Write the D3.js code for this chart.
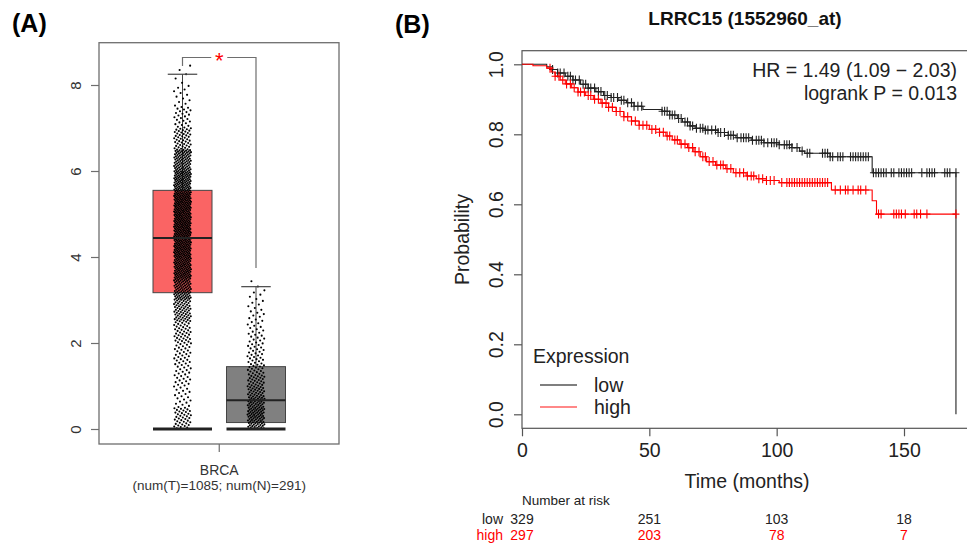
<!DOCTYPE html>
<html>
<head>
<meta charset="utf-8">
<script src="https://cdn.jsdelivr.net/npm/d3@7"></script>
<style>
    body { margin: 0; background: #fff; }
    text { font-family: "Liberation Sans", Arial, Helvetica, sans-serif; }
</style>
</head>
<body>
<svg id="chart" width="967" height="543"></svg>
<script>
// ---------- panel A data (GEPIA box plot, BRCA) ----------
var groups = ['Tumor', 'Normal'];
var groupFill = ['#fa6464', '#808080'];
// min, q1, median, q3, upper whisker
var tumorBox = [0, 3.17, 4.44, 5.55, 8.25];
var normalBox = [0, 0.15, 0.67, 1.45, 3.31];
var tumorZeros = 30;
var tumorBinStart = 0, tumorBinWidth = 0.5;
var tumorBinCounts = [40, 20, 25, 30, 40, 60, 85, 110, 120, 125, 123, 105, 85, 45, 25, 12, 5];
var normalZeros = 40;
var normalBinStart = 0, normalBinWidth = 0.25;
var normalBinCounts = [36, 40, 35, 28, 24, 19, 15, 13, 11, 9, 8, 6, 5, 2];
var yTicksA = [0, 2, 4, 6, 8];
var cancerLabel = 'BRCA';
var countLabel = '(num(T)=1085; num(N)=291)';

// ---------- panel B data (KM plot) ----------
var kmTitle = 'LRRC15 (1552960_at)';
var lowTimes = [0, 9.7, 12, 14, 17, 20, 23, 26, 29, 32, 35, 38, 41, 44, 47.5, 55, 58, 61, 63, 66, 68, 72, 77, 81, 84, 90, 95, 101, 106, 109, 111, 121, 137.5, 170.4];
var lowSurv = [1.0, 0.993, 0.985, 0.975, 0.966, 0.955, 0.943, 0.932, 0.922, 0.911, 0.905, 0.897, 0.890, 0.880, 0.871, 0.866, 0.855, 0.845, 0.835, 0.824, 0.817, 0.812, 0.805, 0.797, 0.790, 0.783, 0.776, 0.770, 0.762, 0.752, 0.746, 0.736, 0.690, 0.0];
var highTimes = [0, 4.3, 9.7, 11.5, 13, 15, 17, 19.5, 22, 25, 28, 31, 34, 37, 40, 43, 46, 50, 54, 56.5, 59, 62, 65, 67.5, 70, 72.5, 76, 80, 83, 88, 92, 96, 101, 121.5, 137.5, 139.2, 170.4];
var highSurv = [1.0, 0.996, 0.989, 0.978, 0.966, 0.955, 0.944, 0.933, 0.921, 0.911, 0.900, 0.889, 0.877, 0.865, 0.850, 0.838, 0.826, 0.814, 0.806, 0.795, 0.784, 0.772, 0.762, 0.750, 0.736, 0.722, 0.712, 0.702, 0.690, 0.681, 0.673, 0.668, 0.662, 0.641, 0.610, 0.572, 0.572];
var lowCensor = [12, 14, 15, 16.5, 18, 19, 20, 21, 22.5, 24, 25, 26, 27, 28.5, 30, 31, 32.5, 33.5, 35, 36, 37.5, 39, 40, 41.5, 43, 44, 45.5, 47,
    55, 56, 57, 58, 59, 60, 61.5, 62.5, 64, 65, 66, 67, 68.5, 70, 71, 72, 73, 74.5, 76, 77, 78, 79.5, 81, 82, 83, 84.5, 86, 87, 88, 89, 90.5,
    92, 93, 94, 95, 96.5, 98, 99, 100, 101, 103, 104, 105, 106, 108, 110, 112, 113, 118, 119, 120, 121, 122, 124, 125, 126, 129, 130, 131,
    132, 133, 134, 135, 136, 138, 139, 140, 141, 142, 143, 145, 146, 148, 149, 150, 151, 152, 153, 157, 159, 160, 161, 162, 166, 167, 168, 170.4];
var highCensor = [11, 13, 14.5, 16, 17.5, 19, 20.5, 22, 23, 24.5, 26, 27, 28.5, 30, 31.5, 33, 34, 35.5, 37, 38.5, 40, 41.5, 43, 44.5, 46, 47.5,
    49, 51, 52.5, 54, 55.5, 57, 58, 60, 61, 62.5, 64, 65.5, 67, 68, 69.5, 71, 72, 73.5, 75, 76.5, 78, 79, 80.5, 82, 84, 85.5, 87, 88.5, 90, 91,
    93, 94.5, 96, 97.5, 99, 102, 104, 105, 106, 107, 108, 109, 110, 111, 112, 113, 114, 115, 116, 117, 118, 119, 120, 123, 125, 127, 128, 130,
    132, 133, 135, 140, 141, 146, 147, 148, 149, 150.5, 154, 155, 156.5, 159, 170.4];
var seriesNames = ['low', 'high'];
var seriesColors = ['#222222', '#ff0000'];
var hrText = 'HR = 1.49 (1.09 \u2212 2.03)';
var pText = 'logrank P = 0.013';
var riskTimes = [0, 50, 100, 150];
var lowAtRisk = [329, 251, 103, 18];
var highAtRisk = [297, 203, 78, 7];
var xTicksB = [0, 50, 100, 150];
var yTicksB = [0, 0.2, 0.4, 0.6, 0.8, 1.0];

var svg = d3.select('#chart');

// ================= panel A =================
var frameA = {left: 99, right: 339, top: 42.7, bottom: 444};
var yA = d3.scaleLinear().domain([0, 8]).range([429, 85]);
var xA = d3.scalePoint().domain(groups).range([182.5, 256]);
var boxW = 59;
var axisGrey = '#6e6e6e';

var gA = svg.append('g');

gA.append('rect')
    .attr('x', frameA.left).attr('y', frameA.top)
    .attr('width', frameA.right - frameA.left)
    .attr('height', frameA.bottom - frameA.top)
    .attr('fill', 'none').attr('stroke', axisGrey).attr('stroke-width', 1.3);

var ayA = gA.append('g')
    .attr('transform', 'translate(' + frameA.left + ',0)')
    .call(d3.axisLeft(yA).tickValues(yTicksA).tickSize(8).tickFormat(d3.format('d')));
ayA.select('.domain').remove();
ayA.selectAll('line').attr('stroke', axisGrey).attr('stroke-width', 1.2);
ayA.selectAll('text')
    .attr('x', null).attr('dy', null)
    .attr('text-anchor', 'middle')
    .attr('transform', 'translate(-18,0) rotate(-90)')
    .style('font-size', '15px').attr('fill', '#333');

// x tick between the two boxes
var midA = (xA(groups[0]) + xA(groups[1])) / 2;
gA.append('line')
    .attr('x1', midA).attr('x2', midA)
    .attr('y1', frameA.bottom).attr('y2', frameA.bottom + 8)
    .attr('stroke', axisGrey).attr('stroke-width', 1.2);
gA.append('text').attr('x', midA).attr('y', 475)
    .attr('text-anchor', 'middle').style('font-size', '14px').attr('fill', '#333')
    .text(cancerLabel);
gA.append('text').attr('x', midA).attr('y', 490)
    .attr('text-anchor', 'middle').style('font-size', '13.5px').attr('fill', '#333')
    .text(countLabel);

var boxStats = [tumorBox, normalBox];

// boxes
groups.forEach(function (g, i) {
    var s = boxStats[i];
    var cx = xA(g);
    gA.append('line')
        .attr('x1', cx).attr('x2', cx)
        .attr('y1', yA(s[3])).attr('y2', yA(s[4]))
        .attr('stroke', '#444').attr('stroke-width', 1);
    gA.append('rect')
        .attr('x', cx - boxW / 2).attr('y', yA(s[3]))
        .attr('width', boxW).attr('height', yA(s[1]) - yA(s[3]))
        .attr('fill', groupFill[i]).attr('stroke', '#444').attr('stroke-width', 1);
});

// jittered points from the binned counts
var makePoints = function (group, zeros, start, width, counts) {
    var pts = [];
    var k = 0;
    for (var z = 0; z < zeros; z++) {
        pts.push({g: group, v: 0, k: k++});
    }
    counts.forEach(function (n, b) {
        for (var j = 0; j < n; j++) {
            pts.push({g: group, v: start + width * b + width * (j + 0.5) / n, k: k++});
        }
    });
    return pts;
};
var points = makePoints(groups[0], tumorZeros, tumorBinStart, tumorBinWidth, tumorBinCounts)
    .concat(makePoints(groups[1], normalZeros, normalBinStart, normalBinWidth, normalBinCounts));

gA.append('g').selectAll('circle')
    .data(points)
    .enter()
    .append('circle')
    .attr('cx', function (d) {
        var f = (d.k * 0.6180339887) % 1;
        return xA(d.g) + (f - 0.5) * 17;
    })
    .attr('cy', function (d) { return yA(d.v); })
    .attr('r', 1.05)
    .attr('fill', '#000');

// median, caps, base line
groups.forEach(function (g, i) {
    var s = boxStats[i];
    var cx = xA(g);
    gA.append('line')
        .attr('x1', cx - boxW / 2).attr('x2', cx + boxW / 2)
        .attr('y1', yA(s[2])).attr('y2', yA(s[2]))
        .attr('stroke', '#222').attr('stroke-width', 2);
    gA.append('line')
        .attr('x1', cx - boxW / 4).attr('x2', cx + boxW / 4)
        .attr('y1', yA(s[4])).attr('y2', yA(s[4]))
        .attr('stroke', '#444').attr('stroke-width', 1.2);
    gA.append('line')
        .attr('x1', cx - boxW / 2).attr('x2', cx + boxW / 2)
        .attr('y1', yA(s[0])).attr('y2', yA(s[0]))
        .attr('stroke', '#222').attr('stroke-width', 3);
});

// significance bracket
var brY = 57.5;
var bx1 = xA(groups[0]), bx2 = xA(groups[1]);
var bracket = d3.path();
bracket.moveTo(bx1, 66); bracket.lineTo(bx1, brY); bracket.lineTo(midA - 8, brY);
bracket.moveTo(midA + 8, brY); bracket.lineTo(bx2, brY); bracket.lineTo(bx2, 268);
gA.append('path').attr('d', bracket.toString())
    .attr('fill', 'none').attr('stroke', axisGrey).attr('stroke-width', 1.2);
gA.append('text').attr('x', midA).attr('y', 68)
    .attr('text-anchor', 'middle').style('font-size', '22px').attr('fill', '#ff0000')
    .text('*');

svg.append('text').attr('x', 12).attr('y', 32)
    .style('font-size', '25px').style('font-weight', 'bold').text('(A)');

// ================= panel B =================
var frameB = {left: 522, right: 968, top: 50.7, bottom: 428.3};
var xB = d3.scaleLinear().domain([0, 150]).range([522, 904]);
var yB = d3.scaleLinear().domain([0, 1]).range([414.3, 64.3]);
var gB = svg.append('g');
var greyB = '#555';

svg.append('text').attr('x', 395).attr('y', 33)
    .style('font-size', '25px').style('font-weight', 'bold').text('(B)');

gB.append('text').attr('x', 745).attr('y', 25)
    .attr('text-anchor', 'middle')
    .style('font-size', '19px').style('font-weight', 'bold').attr('fill', '#111')
    .text(kmTitle);

gB.append('rect')
    .attr('x', frameB.left).attr('y', frameB.top)
    .attr('width', frameB.right - frameB.left)
    .attr('height', frameB.bottom - frameB.top)
    .attr('fill', 'none').attr('stroke', greyB).attr('stroke-width', 1.2);

var ayB = gB.append('g')
    .attr('transform', 'translate(' + frameB.left + ',0)')
    .call(d3.axisLeft(yB).tickValues(yTicksB).tickSize(8).tickFormat(d3.format('.1f')));
ayB.select('.domain').remove();
ayB.selectAll('line').attr('stroke', greyB).attr('stroke-width', 1.2);
ayB.selectAll('text')
    .attr('x', null).attr('dy', null)
    .attr('text-anchor', 'middle')
    .attr('transform', 'translate(-19,0) rotate(-90)')
    .style('font-size', '19.5px').attr('fill', '#222');

var axB = gB.append('g')
    .attr('transform', 'translate(0,' + frameB.bottom + ')')
    .call(d3.axisBottom(xB).tickValues(xTicksB).tickSize(8));
axB.select('.domain').remove();
axB.selectAll('line').attr('stroke', greyB).attr('stroke-width', 1.2);
axB.selectAll('text')
    .attr('y', 28.7).attr('dy', null)
    .style('font-size', '19.5px').attr('fill', '#222');

gB.append('text')
    .attr('transform', 'translate(469,' + ((frameB.top + frameB.bottom) / 2) + ') rotate(-90)')
    .attr('text-anchor', 'middle').style('font-size', '19.5px').attr('fill', '#222')
    .text('Probability');
gB.append('text').attr('x', 747).attr('y', 488)
    .attr('text-anchor', 'middle').style('font-size', '19.5px').attr('fill', '#222')
    .text('Time (months)');

// survival curves
var kmLine = d3.line()
    .x(function (d) { return xB(d[0]); })
    .y(function (d) { return yB(d[1]); })
    .curve(d3.curveStepAfter);

var series = [
    {times: lowTimes, surv: lowSurv, censor: lowCensor},
    {times: highTimes, surv: highSurv, censor: highCensor}
];

series.forEach(function (s, i) {
    var pts = s.times.map(function (t, j) { return [t, s.surv[j]]; });
    gB.append('path')
        .attr('d', kmLine(pts))
        .attr('fill', 'none')
        .attr('stroke', seriesColors[i])
        .attr('stroke-width', 1.1);

    var survAt = function (t) {
        var j = d3.bisectRight(s.times, t) - 1;
        if (j >= s.times.length - 1 && s.surv[s.surv.length - 1] === 0) {
            j = s.times.length - 2;
        }
        return s.surv[Math.max(0, j)];
    };
    gB.append('g').selectAll('path')
        .data(s.censor)
        .enter()
        .append('path')
        .attr('d', function (t) {
            var x = xB(t), y = yB(survAt(t));
            return 'M' + (x - 3.5) + ',' + y + 'h7M' + x + ',' + (y - 4.5) + 'v9';
        })
        .attr('stroke', seriesColors[i])
        .attr('stroke-width', 1.1)
        .attr('fill', 'none');
});

gB.append('text').attr('x', 957).attr('y', 76.5)
    .attr('text-anchor', 'end').style('font-size', '19.5px').attr('fill', '#222')
    .text(hrText);
gB.append('text').attr('x', 957).attr('y', 100)
    .attr('text-anchor', 'end').style('font-size', '19.5px').attr('fill', '#222')
    .text(pText);

// legend
gB.append('text').attr('x', 533).attr('y', 363)
    .style('font-size', '19.5px').attr('fill', '#222').text('Expression');
var legendColors = ['#555', '#ff6060'];
seriesNames.forEach(function (name, i) {
    var ly = 385 + i * 22;
    gB.append('line')
        .attr('x1', 540).attr('x2', 577).attr('y1', ly).attr('y2', ly)
        .attr('stroke', legendColors[i]).attr('stroke-width', 1.3);
    gB.append('text').attr('x', 594).attr('y', ly + 7)
        .style('font-size', '19.5px').attr('fill', '#222').text(name);
});

// number at risk table
gB.append('text').attr('x', 522).attr('y', 505)
    .style('font-size', '13.5px').attr('fill', '#222').text('Number at risk');
var riskRows = [lowAtRisk, highAtRisk];
var riskColors = ['#222', '#ff0000'];
riskRows.forEach(function (row, i) {
    var ry = 524 + i * 15.5;
    gB.append('text').attr('x', 503).attr('y', ry)
        .attr('text-anchor', 'end').style('font-size', '14px')
        .attr('fill', riskColors[i]).text(seriesNames[i]);
    gB.append('g').selectAll('text')
        .data(row)
        .enter()
        .append('text')
        .attr('x', function (d, j) { return xB(riskTimes[j]); })
        .attr('y', ry)
        .attr('text-anchor', 'middle')
        .style('font-size', '14px')
        .attr('fill', riskColors[i])
        .text(function (d) { return d; });
});
</script>
</body>
</html>
